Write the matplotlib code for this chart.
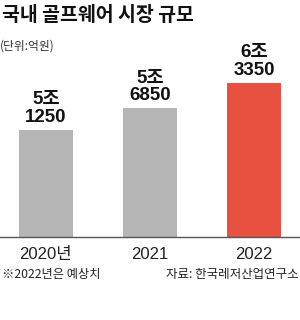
import matplotlib.pyplot as plt

# data
years = ['2020년', '2021', '2022']
values = [51250, 56850, 63350]  # 억원
value_labels = ['5조\n1250', '5조\n6850', '6조\n3350']
colors = ['#b4b5b4', '#b4b5b4', '#e8503f']

title = '국내 골프웨어 시장 규모'
unit = '(단위:억원)'
note = '※2022년은 예상치'
source = '자료: 한국레저산업연구소'

KR = ['Noto Sans CJK KR', 'DejaVu Sans']
NUM = ['Liberation Sans', 'Noto Sans CJK KR', 'DejaVu Sans']

fig = plt.figure(figsize=(3.0, 3.2), dpi=100)
ax = fig.add_axes([0, 0.259, 1, 0.55])

x = range(len(years))
bars = ax.bar(x, values, width=0.52, color=colors)

ax.set_xlim(-0.44, 2.44)
ax.set_ylim(23700, 23700 + 176 / 0.003884)

for b, lab in zip(bars, value_labels):
    ax.annotate(lab, (b.get_x() + b.get_width() / 2, b.get_height()),
                xytext=(0, 3), textcoords='offset points',
                ha='center', va='bottom', fontsize=13.5, fontweight='bold',
                family=NUM, linespacing=1.05, color='#111111')

ax.set_xticks(list(x))
ax.set_xticklabels(years, family=NUM, fontsize=12, color='#222222')
ax.tick_params(axis='x', length=0, pad=7)
ax.set_yticks([])
for s in ['top', 'left', 'right']:
    ax.spines[s].set_visible(False)
ax.spines['bottom'].set_color('#555555')
ax.spines['bottom'].set_linewidth(1.0)

fig.text(0.005, 0.952, title, family=KR, fontsize=14, fontweight='bold',
         va='center', ha='left', color='#111111')
fig.text(0.0, 0.857, unit, family=KR, fontsize=8.5, va='center', ha='left',
         color='#333333')
fig.text(0.005, 0.142, note, family=KR, fontsize=8.8, va='center', ha='left',
         color='#222222')
fig.text(0.995, 0.142, source, family=KR, fontsize=9, va='center', ha='right',
         color='#222222')

fig.savefig('out.png', dpi=100, facecolor='white')
